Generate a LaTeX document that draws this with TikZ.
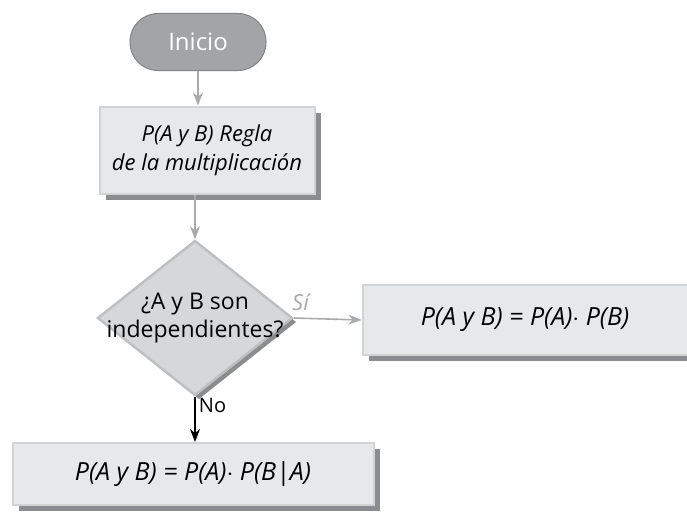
\documentclass[tikz,border=0pt]{standalone}
\usepackage{fontspec}
\setmainfont{Open Sans}
\usetikzlibrary{shapes.geometric,shadows,arrows.meta}
\definecolor{boxfill}{HTML}{E7E8E9}
\definecolor{boxedge}{HTML}{D2D3D5}
\definecolor{shadowgray}{HTML}{8B8C8F}
\definecolor{startgray}{HTML}{A3A4A6}
\definecolor{arrowgray}{HTML}{A9AAAC}
\definecolor{diamondfill}{HTML}{D6D7D9}
\definecolor{diamondedge}{HTML}{BEBFC1}
\begin{document}
\begin{tikzpicture}[x=1pt,y=-1pt,
    startbox/.style={draw=startgray!80!black, line width=1pt, fill=startgray,
      rounded corners=28pt, minimum width=136pt, minimum height=57pt,
      text=white, font=\fontsize{24}{28}\selectfont},
    procbox/.style={draw=boxedge, line width=2pt, fill=boxfill, align=center,
      font=\fontsize{22}{29}\selectfont\itshape,
      drop shadow={shadow xshift=6pt, shadow yshift=-6pt, opacity=1, fill=shadowgray}},
    formula/.style={font=\fontsize{25}{30}\selectfont\itshape},
    decision/.style={diamond, draw=diamondedge, line width=2.5pt, fill=diamondfill,
      minimum width=195pt, minimum height=155pt, inner sep=0pt,
      drop shadow={shadow xshift=4pt, shadow yshift=-4pt, opacity=1, fill=shadowgray}},
    flowarrow/.style={draw=arrowgray, line width=1.6pt,
      -{Stealth[length=13pt, width=10pt]}},
    noarrow/.style={draw=black, line width=1.3pt,
      -{Stealth[length=13pt, width=10pt]}}]
\useasboundingbox (0,0) rectangle (687,511);
% nodes
\node[startbox] (inicio) at (198,42) {Inicio};
\node[procbox, minimum width=215pt, minimum height=87pt] (regla) at (207,150)
  {P(A y B) Regla\\de la multiplicación};
\node[decision] (indep) at (195,318) {};
\node[align=center, font=\fontsize{23}{28}\selectfont] (indeptext) at (indep.center)
  {¿A y B son\\independientes?};
\node[procbox, formula, minimum width=325pt, minimum height=70pt] (prodsi) at (525,320)
  {P(A y B) = P(A)$\cdot$ P(B)};
\node[procbox, formula, minimum width=361pt, minimum height=62pt] (prodno) at (193,474)
  {P(A y B) = P(A)$\cdot$ P(B|A)};
% connectors
\draw[flowarrow] (indep.east) -- node[above, pos=0.1, yshift=3pt, text=arrowgray,
  font=\fontsize{22}{24}\selectfont\itshape] (si) {Sí} (prodsi.west);
\draw[flowarrow] (inicio.south) -- (inicio.south |- regla.north);
\draw[flowarrow] (indep.north |- regla.south) -- (indep.north);
\draw[noarrow] (indep.south) -- node[right, pos=0.2,
  font=\fontsize{20}{24}\selectfont] (no) {No} (indep.south |- prodno.north);
\end{tikzpicture}
\end{document}
